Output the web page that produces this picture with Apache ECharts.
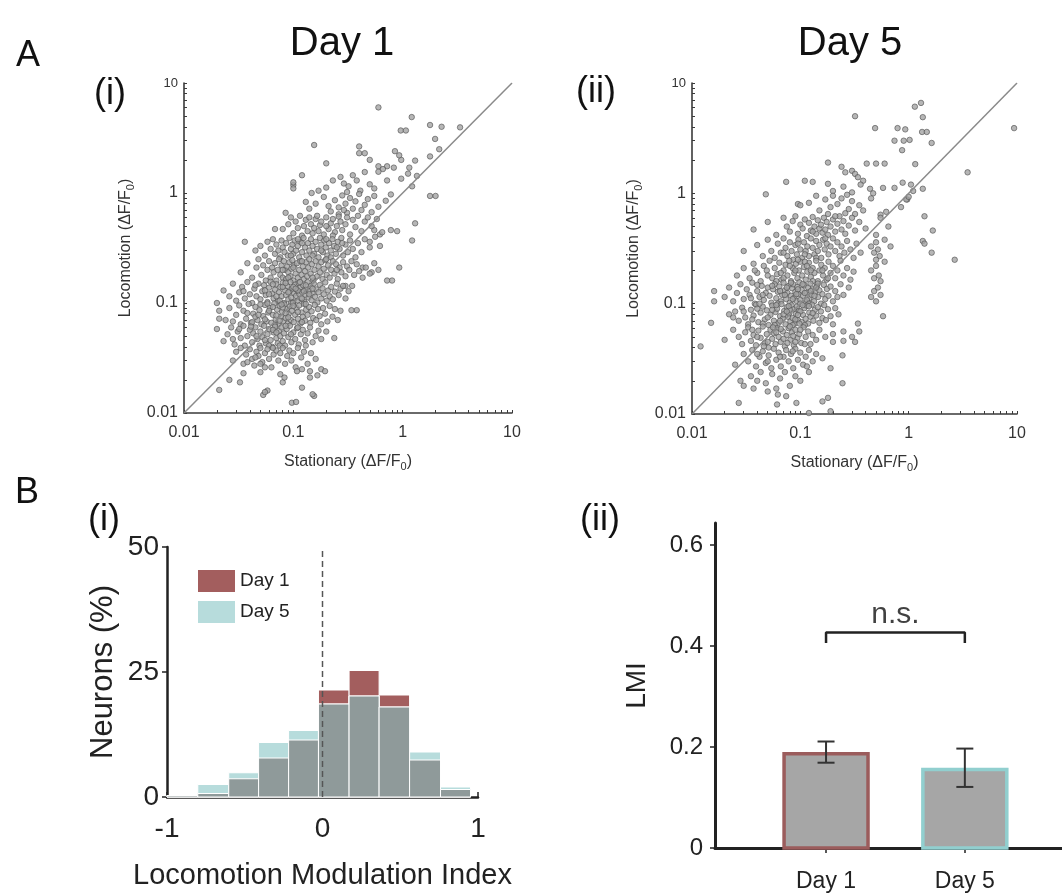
<!DOCTYPE html>
<html>
<head>
<meta charset="utf-8">
<script src="https://cdn.jsdelivr.net/npm/echarts@6/dist/echarts.min.js"></script>
<style>
html,body{margin:0;padding:0;background:#fff;}
#chart{width:1062px;height:895px;}
</style>
</head>
<body>
<div id="chart"></div>
<script>
// ---- A: per-neuron response amplitude, [stationary, locomotion] in ΔF/F0 ----
const day1Points = [
[0.155,2.73],[0.4,2.65],[0.6,6.0],[1.21,4.9],[0.96,3.7],[1.07,3.7],[1.78,4.15],[2.27,4.0],[3.35,3.95],[1.98,3.1],
[0.2,1.86],[0.4,2.3],[0.45,2.3],[0.6,1.75],[0.72,1.75],[0.85,2.4],[0.97,2.0],[1.3,1.97],[1.78,2.15],[2.16,2.5],[0.5,2.0],[0.66,1.65],[0.83,1.7],[0.93,2.2],[1.15,1.7],
[0.1,1.18],[0.1,1.25],[0.1,1.1],[0.12,1.45],[0.147,1.0],[0.17,1.05],[0.2,1.12],[0.23,1.3],[0.27,1.4],[0.29,1.22],[0.32,1.15],[0.35,1.45],[0.38,1.3],[0.41,1.05],[0.45,1.55],[0.5,1.2],[0.55,1.1],[0.6,1.56],[0.72,1.3],[0.97,1.35],[1.12,1.5],[0.31,1.02],[1.35,1.43],[1.22,1.15],
[0.085,0.66],[0.13,0.83],[0.16,0.8],[0.14,0.72],[0.19,0.92],[0.22,0.68],[0.24,0.86],[0.26,0.74],[0.28,0.95],[0.3,0.8],[0.31,0.66],[0.33,0.9],[0.35,0.72],[0.37,0.84],[0.4,0.98],[0.42,0.7],[0.45,0.78],[0.48,0.88],[0.52,0.67],[0.55,0.94],[0.6,0.75],[0.7,0.85],[0.78,0.97],[1.78,0.94],[0.26,0.64],[0.29,0.7],[0.21,0.76],[2.0,0.94],
[1.3,0.53],[1.22,0.37],[0.89,0.45],[0.62,0.42],[0.62,0.33],[0.5,0.36],[0.93,0.21],[0.8,0.16],[0.52,0.19],[0.43,0.21],[0.3,0.143],[0.345,0.143],[0.38,0.086],[0.72,0.16],[0.78,0.46],[0.55,0.46],[0.56,0.4],[0.34,0.086],
[0.068,0.47],[0.08,0.47],[0.09,0.52],[0.095,0.6],[0.1,0.43],[0.105,0.55],[0.11,0.48],[0.115,0.62],[0.12,0.41],[0.125,0.5],[0.13,0.57],[0.135,0.45],[0.14,0.6],[0.145,0.52],[0.15,0.43],[0.155,0.48],[0.16,0.58],[0.165,0.62],[0.17,0.45],[0.175,0.51],[0.18,0.55],[0.19,0.42],[0.2,0.6],[0.21,0.47],[0.22,0.53],[0.23,0.58],[0.24,0.44],[0.25,0.5],[0.26,0.61],[0.27,0.55],[0.28,0.46],[0.3,0.52],[0.31,0.6],[0.33,0.42],[0.35,0.57],[0.37,0.49],[0.39,0.62],[0.42,0.45],[0.45,0.55],[0.48,0.6],[0.52,0.5],[0.58,0.58],[0.65,0.44],[0.2,0.5],[0.23,0.41],
[0.036,0.36],[0.045,0.3],[0.05,0.33],[0.055,0.27],[0.058,0.36],[0.062,0.31],[0.065,0.38],[0.068,0.28],[0.07,0.34],[0.073,0.3],[0.076,0.26],[0.078,0.37],[0.08,0.32],[0.083,0.29],[0.086,0.35],[0.089,0.27],[0.092,0.39],[0.095,0.31],[0.098,0.34],[0.1,0.28],[0.103,0.37],[0.106,0.3],[0.11,0.33],[0.113,0.26],[0.116,0.36],[0.12,0.29],[0.124,0.39],[0.128,0.32],[0.132,0.27],[0.136,0.35],[0.14,0.3],[0.145,0.38],[0.15,0.33],[0.155,0.28],[0.16,0.36],[0.165,0.31],[0.17,0.26],[0.175,0.39],[0.18,0.34],[0.186,0.29],[0.192,0.37],[0.198,0.32],[0.205,0.27],[0.212,0.35],[0.22,0.3],[0.228,0.38],[0.236,0.33],[0.245,0.28],[0.255,0.36],[0.265,0.31],[0.275,0.39],[0.285,0.27],[0.3,0.34],[0.315,0.29],[0.33,0.37],[0.35,0.31],[0.37,0.26],[0.39,0.35],[0.42,0.29],[0.45,0.38],[0.5,0.32],[0.12,0.35],[0.15,0.27],[0.18,0.3],[0.22,0.26],[0.25,0.32],[0.11,0.38],[0.095,0.27],[0.28,0.35],[0.2,0.38],
[0.033,0.19],[0.038,0.23],[0.042,0.17],[0.046,0.21],[0.048,0.25],[0.051,0.18],[0.053,0.22],[0.056,0.16],[0.058,0.2],[0.06,0.24],[0.062,0.17],[0.064,0.21],[0.066,0.19],[0.068,0.23],[0.07,0.16],[0.072,0.2],[0.074,0.25],[0.076,0.18],[0.078,0.22],[0.08,0.17],[0.082,0.24],[0.084,0.2],[0.086,0.165],[0.088,0.215],[0.09,0.19],[0.092,0.235],[0.094,0.175],[0.096,0.205],[0.098,0.245],[0.1,0.16],[0.102,0.22],[0.105,0.185],[0.108,0.23],[0.11,0.17],[0.113,0.2],[0.116,0.24],[0.119,0.18],[0.122,0.215],[0.125,0.165],[0.128,0.195],[0.131,0.235],[0.134,0.175],[0.137,0.21],[0.14,0.25],[0.144,0.185],[0.148,0.225],[0.152,0.16],[0.156,0.2],[0.16,0.24],[0.165,0.175],[0.17,0.215],[0.175,0.19],[0.18,0.235],[0.185,0.165],[0.19,0.205],[0.196,0.245],[0.202,0.18],[0.208,0.22],[0.215,0.17],[0.222,0.2],[0.23,0.24],[0.238,0.185],[0.246,0.225],[0.255,0.165],[0.265,0.21],[0.275,0.19],[0.285,0.235],[0.3,0.175],[0.31,0.215],[0.325,0.2],[0.34,0.24],[0.36,0.18],[0.38,0.225],[0.4,0.195],[0.43,0.17],[0.46,0.21],[0.5,0.185],[0.55,0.23],[0.6,0.2],[0.08,0.2],[0.1,0.21],[0.12,0.24],[0.15,0.17],[0.2,0.25],[0.09,0.17],[0.25,0.2],
[0.023,0.13],[0.026,0.115],[0.028,0.15],[0.03,0.105],[0.032,0.125],[0.034,0.14],[0.036,0.11],[0.038,0.155],[0.04,0.12],[0.042,0.1],[0.044,0.135],[0.046,0.115],[0.048,0.15],[0.05,0.108],[0.052,0.128],[0.054,0.145],[0.056,0.118],[0.058,0.102],[0.06,0.138],[0.062,0.156],[0.064,0.122],[0.066,0.11],[0.068,0.132],[0.07,0.148],[0.072,0.104],[0.074,0.125],[0.076,0.14],[0.078,0.115],[0.08,0.153],[0.082,0.1],[0.084,0.13],[0.086,0.118],[0.088,0.143],[0.09,0.108],[0.092,0.127],[0.094,0.155],[0.096,0.112],[0.098,0.136],[0.1,0.102],[0.102,0.122],[0.104,0.147],[0.106,0.116],[0.108,0.131],[0.11,0.105],[0.112,0.152],[0.114,0.12],[0.116,0.138],[0.118,0.11],[0.12,0.126],[0.123,0.145],[0.126,0.103],[0.129,0.118],[0.132,0.134],[0.135,0.155],[0.138,0.112],[0.141,0.128],[0.144,0.142],[0.147,0.106],[0.15,0.122],[0.154,0.15],[0.158,0.114],[0.162,0.133],[0.166,0.101],[0.17,0.125],[0.175,0.146],[0.18,0.11],[0.185,0.136],[0.19,0.12],[0.196,0.154],[0.202,0.105],[0.208,0.13],[0.215,0.115],[0.222,0.14],[0.23,0.108],[0.24,0.127],[0.25,0.15],[0.26,0.118],[0.27,0.135],[0.285,0.143],[0.3,0.11],[0.32,0.128],[0.06,0.12],[0.07,0.115],[0.08,0.14],[0.09,0.125],[0.1,0.14],[0.11,0.13],[0.12,0.11],[0.13,0.145],[0.14,0.12],[0.15,0.135],[0.065,0.148],[0.075,0.105],[0.085,0.152],[0.095,0.1],[0.105,0.135],[0.115,0.155],[0.125,0.128],[0.055,0.13],[0.045,0.145],[0.035,0.128],
[0.02,0.1],[0.021,0.085],[0.021,0.072],[0.024,0.07],[0.026,0.09],[0.028,0.068],[0.03,0.078],[0.032,0.095],[0.033,0.064],[0.035,0.085],[0.037,0.072],[0.039,0.098],[0.041,0.066],[0.043,0.08],[0.045,0.092],[0.047,0.07],[0.049,0.086],[0.051,0.064],[0.053,0.076],[0.055,0.096],[0.057,0.068],[0.059,0.082],[0.061,0.09],[0.063,0.066],[0.065,0.078],[0.067,0.099],[0.069,0.071],[0.071,0.087],[0.073,0.064],[0.075,0.094],[0.077,0.075],[0.079,0.083],[0.081,0.068],[0.083,0.097],[0.085,0.073],[0.087,0.088],[0.089,0.065],[0.091,0.08],[0.093,0.093],[0.095,0.07],[0.097,0.085],[0.099,0.1],[0.101,0.067],[0.104,0.078],[0.107,0.09],[0.11,0.072],[0.113,0.095],[0.116,0.065],[0.119,0.082],[0.122,0.075],[0.125,0.098],[0.128,0.069],[0.131,0.087],[0.135,0.078],[0.139,0.092],[0.143,0.066],[0.147,0.084],[0.152,0.073],[0.157,0.096],[0.162,0.07],[0.168,0.088],[0.174,0.076],[0.18,0.064],[0.187,0.09],[0.195,0.08],[0.205,0.068],[0.215,0.094],[0.228,0.075],[0.24,0.088],[0.255,0.07],[0.27,0.085],[0.045,0.075],[0.05,0.097],[0.055,0.071],[0.06,0.085],[0.065,0.092],[0.07,0.077],[0.075,0.069],[0.08,0.091],[0.085,0.081],[0.09,0.074],[0.1,0.094],[0.11,0.083],[0.12,0.067],[0.13,0.098],[0.038,0.081],[0.042,0.067],[0.048,0.078],[0.058,0.099],[0.068,0.063],[0.078,0.097],
[0.02,0.058],[0.023,0.045],[0.025,0.052],[0.027,0.06],[0.029,0.042],[0.031,0.055],[0.033,0.048],[0.035,0.062],[0.036,0.041],[0.038,0.05],[0.04,0.057],[0.042,0.044],[0.043,0.053],[0.045,0.06],[0.047,0.047],[0.049,0.041],[0.05,0.055],[0.052,0.049],[0.054,0.062],[0.056,0.043],[0.058,0.052],[0.06,0.058],[0.062,0.046],[0.064,0.04],[0.066,0.054],[0.068,0.061],[0.07,0.048],[0.072,0.043],[0.074,0.056],[0.076,0.05],[0.078,0.06],[0.08,0.045],[0.082,0.053],[0.084,0.041],[0.087,0.058],[0.09,0.049],[0.093,0.062],[0.096,0.044],[0.1,0.054],[0.104,0.047],[0.108,0.059],[0.112,0.042],[0.117,0.052],[0.122,0.057],[0.128,0.046],[0.135,0.053],[0.142,0.06],[0.15,0.044],[0.16,0.05],[0.17,0.056],[0.18,0.047],[0.237,0.048],[0.2,0.055],[0.046,0.05],[0.055,0.046],[0.065,0.057],[0.075,0.041],[0.085,0.062],[0.095,0.052],[0.041,0.061],[0.032,0.058],[0.028,0.047],[0.11,0.06],[0.13,0.041],[0.06,0.041],[0.07,0.054],
[0.028,0.03],[0.03,0.036],[0.033,0.039],[0.035,0.028],[0.037,0.034],[0.04,0.038],[0.042,0.031],[0.044,0.027],[0.046,0.036],[0.048,0.033],[0.05,0.039],[0.052,0.029],[0.055,0.035],[0.058,0.038],[0.06,0.031],[0.063,0.026],[0.066,0.034],[0.07,0.037],[0.073,0.03],[0.076,0.035],[0.08,0.039],[0.084,0.028],[0.088,0.033],[0.092,0.037],[0.096,0.03],[0.1,0.035],[0.105,0.026],[0.11,0.039],[0.118,0.032],[0.125,0.036],[0.135,0.028],[0.145,0.035],[0.16,0.031],[0.18,0.025],[0.038,0.029],[0.055,0.026],[0.065,0.039],[0.045,0.032],
[0.021,0.0162],[0.026,0.02],[0.0325,0.019],[0.035,0.023],[0.05,0.0235],[0.05,0.028],[0.058,0.016],[0.076,0.0225],[0.08,0.019],[0.083,0.021],[0.108,0.024],[0.12,0.025],[0.142,0.024],[0.166,0.022],[0.12,0.017],[0.142,0.021],[0.195,0.024],
[0.097,0.0124],[0.053,0.0146],[0.055,0.0155],[0.155,0.0143],[0.15,0.0148],[0.106,0.0126]
];

const day5Points = [
[1.14,6.1],[1.3,6.6],[0.32,5.0],[1.35,4.9],[9.4,3.9],
[0.49,3.9],[0.79,3.9],[0.93,3.8],[1.33,3.6],[1.47,3.6],[0.74,3.0],[0.9,3.0],[1.02,3.05],[1.63,2.86],[0.87,2.46],
[0.18,1.9],[0.24,1.74],[0.41,1.86],[0.5,1.86],[0.6,1.86],[1.15,1.84],[3.5,1.55],[0.26,1.55],[0.3,1.6],[0.32,1.5],[0.34,1.4],[0.38,1.3],
[0.074,1.27],[0.11,1.3],[0.13,1.27],[0.18,1.22],[0.58,1.12],[0.74,1.12],[0.44,1.1],[0.47,1.0],[0.88,1.25],[1.35,1.1],[0.2,1.05],[0.25,1.15],[0.3,1.02],[0.36,1.2],[1.05,1.2],[1.1,1.05],[0.97,0.88],
[0.048,0.98],[0.095,0.8],[0.1,0.78],[0.12,0.82],[0.15,0.7],[0.17,0.88],[0.2,0.95],[0.19,0.75],[0.22,0.8],[0.24,0.9],[0.26,0.66],[0.28,0.72],[0.3,0.85],[0.32,0.65],[0.35,0.78],[0.38,0.7],[0.45,0.9],[0.55,0.64],[0.62,0.68],[0.95,0.88],[1.0,0.93],[1.4,0.62],[0.18,0.65],[0.14,0.95],[0.27,0.97],[0.85,0.75],
[0.037,0.47],[0.05,0.55],[0.06,0.42],[0.07,0.6],[0.075,0.5],[0.08,0.45],[0.085,0.56],[0.09,0.62],[0.095,0.43],[0.1,0.52],[0.105,0.48],[0.11,0.58],[0.115,0.41],[0.12,0.54],[0.125,0.46],[0.13,0.61],[0.135,0.5],[0.14,0.43],[0.145,0.57],[0.15,0.48],[0.155,0.52],[0.16,0.44],[0.165,0.6],[0.17,0.47],[0.175,0.55],[0.18,0.42],[0.19,0.5],[0.2,0.58],[0.21,0.45],[0.22,0.53],[0.23,0.62],[0.24,0.47],[0.25,0.56],[0.26,0.43],[0.28,0.51],[0.3,0.6],[0.32,0.46],[0.35,0.55],[0.4,0.48],[0.5,0.42],[0.55,0.6],[0.65,0.5],[1.67,0.46],[0.13,0.45],[0.21,0.62],
[0.03,0.3],[0.04,0.34],[0.045,0.27],[0.05,0.38],[0.054,0.3],[0.058,0.26],[0.062,0.35],[0.066,0.29],[0.07,0.39],[0.073,0.32],[0.076,0.27],[0.08,0.36],[0.083,0.3],[0.086,0.25],[0.09,0.34],[0.093,0.28],[0.096,0.38],[0.1,0.31],[0.104,0.26],[0.108,0.36],[0.112,0.3],[0.116,0.33],[0.12,0.27],[0.125,0.39],[0.13,0.32],[0.135,0.28],[0.14,0.37],[0.145,0.3],[0.15,0.34],[0.156,0.26],[0.162,0.38],[0.168,0.31],[0.175,0.35],[0.182,0.28],[0.19,0.33],[0.2,0.39],[0.21,0.3],[0.22,0.36],[0.23,0.27],[0.24,0.33],[0.255,0.29],[0.27,0.37],[0.29,0.31],[0.31,0.26],[0.33,0.35],[0.36,0.29],[0.45,0.33],[0.48,0.29],[0.5,0.36],[0.52,0.31],[0.54,0.27],[0.5,0.25],[1.35,0.37],[1.4,0.35],[1.63,0.29],[2.66,0.25],[0.68,0.33],[0.6,0.38],[0.11,0.28],[0.14,0.26],[0.17,0.39],[0.07,0.29],[0.095,0.35],
[0.026,0.18],[0.03,0.21],[0.034,0.17],[0.037,0.23],[0.04,0.19],[0.043,0.16],[0.046,0.22],[0.049,0.2],[0.052,0.245],[0.055,0.17],[0.058,0.21],[0.061,0.185],[0.064,0.235],[0.067,0.165],[0.07,0.2],[0.073,0.225],[0.076,0.18],[0.079,0.245],[0.082,0.16],[0.085,0.21],[0.088,0.19],[0.091,0.23],[0.094,0.17],[0.097,0.2],[0.1,0.24],[0.104,0.18],[0.108,0.215],[0.112,0.165],[0.116,0.195],[0.12,0.235],[0.125,0.175],[0.13,0.21],[0.135,0.19],[0.14,0.245],[0.145,0.16],[0.15,0.2],[0.156,0.225],[0.162,0.18],[0.168,0.21],[0.175,0.165],[0.182,0.24],[0.19,0.19],[0.2,0.22],[0.21,0.17],[0.22,0.2],[0.235,0.245],[0.25,0.18],[0.27,0.21],[0.29,0.165],[0.31,0.195],[0.45,0.2],[0.48,0.17],[0.5,0.22],[0.53,0.18],[0.55,0.16],[0.6,0.24],[0.07,0.17],[0.08,0.22],[0.09,0.2],[0.11,0.24],[0.13,0.16],[0.05,0.18],[0.06,0.16],[0.095,0.25],[0.115,0.22],[0.125,0.2],[0.16,0.2],[0.18,0.17],[0.038,0.2],[0.066,0.19],
[0.016,0.13],[0.02,0.115],[0.022,0.14],[0.024,0.105],[0.026,0.125],[0.028,0.15],[0.03,0.11],[0.032,0.135],[0.034,0.12],[0.036,0.155],[0.038,0.1],[0.04,0.13],[0.042,0.115],[0.044,0.145],[0.046,0.108],[0.048,0.125],[0.05,0.14],[0.052,0.118],[0.054,0.102],[0.056,0.135],[0.058,0.15],[0.06,0.112],[0.062,0.128],[0.064,0.143],[0.066,0.105],[0.068,0.12],[0.07,0.155],[0.072,0.132],[0.074,0.11],[0.076,0.125],[0.078,0.145],[0.08,0.102],[0.082,0.118],[0.084,0.138],[0.086,0.15],[0.088,0.113],[0.09,0.128],[0.092,0.106],[0.094,0.142],[0.096,0.122],[0.098,0.156],[0.1,0.108],[0.103,0.133],[0.106,0.118],[0.109,0.147],[0.112,0.103],[0.115,0.126],[0.118,0.14],[0.121,0.112],[0.124,0.152],[0.127,0.12],[0.13,0.135],[0.134,0.105],[0.138,0.128],[0.142,0.145],[0.146,0.115],[0.15,0.132],[0.155,0.1],[0.16,0.122],[0.165,0.148],[0.17,0.11],[0.176,0.136],[0.182,0.118],[0.19,0.143],[0.2,0.105],[0.21,0.13],[0.22,0.115],[0.235,0.15],[0.25,0.12],[0.28,0.14],[0.45,0.115],[0.48,0.13],[0.5,0.105],[0.52,0.14],[0.55,0.12],[0.065,0.13],[0.075,0.14],[0.085,0.11],[0.095,0.135],[0.105,0.15],[0.115,0.108],[0.125,0.13],[0.135,0.118],[0.145,0.152],[0.045,0.12],[0.055,0.145],[0.035,0.112],[0.04,0.148],[0.062,0.1],[0.072,0.12],[0.082,0.155],[0.092,0.122],[0.11,0.125],[0.12,0.1],[0.14,0.14],[0.016,0.105],
[0.015,0.067],[0.022,0.08],[0.025,0.085],[0.027,0.07],[0.029,0.092],[0.031,0.075],[0.033,0.065],[0.035,0.088],[0.037,0.078],[0.039,0.098],[0.041,0.068],[0.043,0.083],[0.045,0.094],[0.047,0.072],[0.049,0.087],[0.051,0.064],[0.053,0.079],[0.055,0.096],[0.057,0.07],[0.059,0.084],[0.061,0.09],[0.063,0.067],[0.065,0.077],[0.067,0.099],[0.069,0.073],[0.071,0.086],[0.073,0.065],[0.075,0.093],[0.077,0.076],[0.079,0.082],[0.081,0.069],[0.083,0.097],[0.085,0.074],[0.087,0.089],[0.089,0.066],[0.091,0.081],[0.093,0.094],[0.095,0.071],[0.097,0.086],[0.1,0.1],[0.103,0.068],[0.106,0.079],[0.109,0.091],[0.112,0.073],[0.115,0.096],[0.118,0.066],[0.121,0.083],[0.124,0.076],[0.128,0.098],[0.132,0.07],[0.136,0.088],[0.14,0.078],[0.145,0.093],[0.15,0.067],[0.155,0.085],[0.16,0.074],[0.166,0.097],[0.172,0.071],[0.18,0.089],[0.19,0.077],[0.2,0.065],[0.21,0.091],[0.225,0.08],[0.34,0.066],[0.35,0.056],[0.58,0.077],[0.03,0.085],[0.04,0.09],[0.05,0.075],[0.06,0.097],[0.07,0.08],[0.08,0.088],[0.09,0.072],[0.1,0.085],[0.11,0.064],[0.12,0.095],[0.13,0.082],[0.045,0.066],[0.055,0.088],[0.065,0.07],[0.075,0.085],[0.085,0.064],[0.095,0.079],[0.105,0.097],[0.036,0.072],[0.042,0.1],[0.058,0.064],[0.078,0.095],[0.098,0.066],[0.024,0.075],
[0.012,0.041],[0.02,0.047],[0.024,0.058],[0.027,0.05],[0.029,0.043],[0.031,0.055],[0.033,0.061],[0.035,0.046],[0.037,0.052],[0.039,0.042],[0.041,0.057],[0.043,0.049],[0.045,0.062],[0.047,0.044],[0.049,0.053],[0.051,0.04],[0.053,0.058],[0.055,0.048],[0.057,0.054],[0.059,0.043],[0.061,0.06],[0.063,0.05],[0.066,0.045],[0.069,0.056],[0.072,0.041],[0.075,0.052],[0.078,0.06],[0.081,0.047],[0.084,0.055],[0.087,0.042],[0.09,0.058],[0.094,0.049],[0.098,0.053],[0.102,0.044],[0.107,0.061],[0.112,0.05],[0.118,0.056],[0.124,0.043],[0.13,0.052],[0.14,0.047],[0.15,0.058],[0.17,0.05],[0.2,0.053],[0.2,0.045],[0.25,0.056],[0.25,0.046],[0.32,0.045],[0.3,0.05],[0.04,0.05],[0.05,0.045],[0.06,0.055],[0.07,0.048],[0.08,0.062],[0.09,0.045],[0.1,0.058],[0.036,0.058],[0.046,0.041],[0.056,0.061],[0.066,0.059],[0.076,0.044],[0.086,0.051],[0.11,0.043],
[0.025,0.028],[0.03,0.035],[0.033,0.03],[0.036,0.038],[0.039,0.027],[0.042,0.033],[0.045,0.037],[0.048,0.029],[0.051,0.034],[0.054,0.026],[0.057,0.039],[0.06,0.031],[0.063,0.036],[0.066,0.027],[0.07,0.033],[0.074,0.038],[0.078,0.03],[0.082,0.035],[0.086,0.026],[0.09,0.039],[0.095,0.031],[0.1,0.036],[0.106,0.028],[0.112,0.033],[0.12,0.038],[0.13,0.03],[0.14,0.035],[0.19,0.026],[0.245,0.034],[0.16,0.032],[0.04,0.035],[0.05,0.03],[0.065,0.033],[0.085,0.037],[0.115,0.027],
[0.028,0.02],[0.03,0.018],[0.035,0.022],[0.037,0.017],[0.04,0.02],[0.043,0.024],[0.048,0.019],[0.055,0.023],[0.06,0.017],[0.065,0.021],[0.072,0.024],[0.08,0.018],[0.09,0.022],[0.1,0.02],[0.245,0.019],[0.12,0.024],[0.05,0.016],
[0.027,0.0126],[0.061,0.0122],[0.062,0.015],[0.074,0.0145],[0.092,0.0126],[0.16,0.013],[0.18,0.014],[0.19,0.0106],[0.12,0.0102]
];

// unity line and log-axis tick marks for both scatter panels
const unityLine = [[0.01, 0.01], [10, 10]];
const logTickValues = [
  0.01,0.02,0.03,0.04,0.05,0.06,0.07,0.08,0.09,
  0.1,0.2,0.3,0.4,0.5,0.6,0.7,0.8,0.9,
  1,2,3,4,5,6,7,8,9,10
];

// ---- B(i): LMI distribution, % of neurons per bin ----
const lmiBinEdges = [-1.0, -0.802, -0.603, -0.411, -0.218, -0.026, 0.171, 0.364, 0.560, 0.759, 0.952];
const lmiDay1Pct = [0.3, 0.7, 3.65, 7.8, 11.4, 21.4, 25.3, 20.4, 7.4, 1.5];
const lmiDay5Pct = [0.3, 2.5, 4.85, 10.9, 13.3, 18.6, 20.2, 18.0, 9.0, 2.0];
const zeroLine = [[0, 0], [0, 50]];

// ---- B(ii): mean LMI ± s.e.m. ----
const lmiGroups = ['Day 1', 'Day 5'];
const lmiGroupPos = [1, 2];
const lmiMeans = [0.19, 0.159];
const lmiErrors = [0.021, 0.038];
const nsBracket = [[1, 0.406], [1, 0.427], [2, 0.427], [2, 0.406]];
const nsLabelPoint = [[1.5, 0.427]];

const FONT = '"Liberation Sans", Arial, Helvetica, sans-serif';
const C_DAY1 = '#a35e5e';
const C_DAY5 = '#b7dcdc';
const C_BOTH = '#8f9a9a';

const chart = echarts.init(document.getElementById('chart'));

function logAxis(gridIndex, isY, name) {
  return {
    type: 'log', logBase: 10, min: 0.01, max: 10, gridIndex,
    name, nameLocation: 'middle', nameGap: isY ? 48 : 39, nameMoveOverlap: false,
    nameTextStyle: {
      fontFamily: FONT, fontSize: 16, color: '#333',
      rich: { sub: { fontFamily: FONT, fontSize: 11, color: '#333', padding: [9, 0, 0, 0] } }
    },
    axisLine: { show: true, onZero: false, lineStyle: { color: '#3a3a3a', width: 1.6 } },
    axisTick: { show: true, inside: true, length: 3, customValues: logTickValues,
                lineStyle: { color: '#3a3a3a', width: 1 } },
    minorTick: { show: false },
    splitLine: { show: false },
    axisLabel: {
      fontFamily: FONT, fontSize: 16, color: '#333', margin: isY ? 6 : 12,
      formatter: v => {
        const s = String(Number(v.toPrecision(3)));
        return (isY && v > 5) ? '{s|' + s + '}' : s;
      },
      rich: { s: { fontFamily: FONT, fontSize: 13, color: '#333' } }
    }
  };
}

function hist(name, values, color, z) {
  return {
    type: 'custom', name, xAxisIndex: 2, yAxisIndex: 2, z,
    itemStyle: { color },
    encode: { x: [0, 1], y: 2 },
    data: values.map((v, i) => [lmiBinEdges[i], lmiBinEdges[i + 1], v]),
    renderItem: (params, api) => {
      const p0 = api.coord([api.value(0), api.value(2)]);
      const p1 = api.coord([api.value(1), 0]);
      return {
        type: 'rect',
        shape: { x: p0[0], y: p0[1], width: p1[0] - p0[0], height: p1[1] - p0[1] },
        style: { fill: color, stroke: '#ffffff', lineWidth: 1 }
      };
    }
  };
}

const overlapPct = lmiDay1Pct.map((v, i) => Math.min(v, lmiDay5Pct[i]));

const bigAxisText = { fontFamily: FONT, color: '#222' };

const scatterStyle = { color: '#a4a4a4', borderColor: '#4e4e4e', borderWidth: 0.8 };

const option = {
  animation: false,
  backgroundColor: '#ffffff',
  grid: [
    { left: 184, top: 83, width: 328, height: 330, outerBoundsMode: 'none' },
    { left: 692, top: 83, width: 325, height: 331, outerBoundsMode: 'none' },
    { left: 167, top: 547, width: 311, height: 250, outerBoundsMode: 'none' },
    { left: 715, top: 523, width: 347, height: 325, outerBoundsMode: 'none' }
  ],
  legend: {
    orient: 'vertical', left: 193, top: 565, itemWidth: 37, itemHeight: 22, itemGap: 9,
    icon: 'rect', selectedMode: false,
    textStyle: { fontFamily: FONT, fontSize: 19, color: '#222' },
    data: [
      { name: 'Day 1', itemStyle: { color: C_DAY1 } },
      { name: 'Day 5', itemStyle: { color: C_DAY5 } }
    ]
  },
  xAxis: [
    logAxis(0, false, 'Stationary (ΔF/F{sub|0})'),
    logAxis(1, false, 'Stationary (ΔF/F{sub|0})'),
    {
      type: 'value', gridIndex: 2, min: -1, max: 1, interval: 1,
      name: 'Locomotion Modulation Index', nameLocation: 'middle', nameGap: 64, nameMoveOverlap: false,
      nameTextStyle: Object.assign({ fontSize: 29 }, bigAxisText),
      axisLine: { show: true, onZero: false, lineStyle: { color: '#222', width: 2.5 } },
      axisTick: { show: true, inside: true, length: 5, lineStyle: { color: '#222', width: 1.5 } },
      splitLine: { show: false },
      axisLabel: Object.assign({ fontSize: 28, margin: 18 }, bigAxisText)
    },
    {
      type: 'value', gridIndex: 3, min: 0.2, max: 2.7,
      axisLine: { show: true, onZero: false, lineStyle: { color: '#222', width: 3 } },
      axisTick: { show: true, length: 5, customValues: lmiGroupPos, lineStyle: { color: '#222', width: 1.5 } },
      splitLine: { show: false },
      axisLabel: Object.assign({ fontSize: 23, margin: 22, customValues: lmiGroupPos,
        formatter: v => lmiGroups[lmiGroupPos.indexOf(v)] }, bigAxisText)
    }
  ],
  yAxis: [
    logAxis(0, true, 'Locomotion (ΔF/F{sub|0})'),
    logAxis(1, true, 'Locomotion (ΔF/F{sub|0})'),
    {
      type: 'value', gridIndex: 2, min: 0, max: 50, interval: 25,
      name: 'Neurons (%)', nameLocation: 'middle', nameGap: 48, nameMoveOverlap: false,
      nameTextStyle: Object.assign({ fontSize: 31 }, bigAxisText),
      axisLine: { show: true, onZero: false, lineStyle: { color: '#222', width: 2.5 } },
      axisTick: { show: true, length: 5, lineStyle: { color: '#222', width: 1.5 } },
      splitLine: { show: false },
      axisLabel: Object.assign({ fontSize: 28, margin: 8 }, bigAxisText)
    },
    {
      type: 'value', gridIndex: 3, min: 0, max: 0.644,
      name: 'LMI', nameLocation: 'middle', nameGap: 64, nameMoveOverlap: false,
      nameTextStyle: Object.assign({ fontSize: 28 }, bigAxisText),
      axisLine: { show: true, onZero: false, lineStyle: { color: '#222', width: 3 } },
      axisTick: { show: true, length: 5, customValues: [0, 0.2, 0.4, 0.6], lineStyle: { color: '#222', width: 1.5 } },
      splitLine: { show: false },
      axisLabel: Object.assign({ fontSize: 24, margin: 12, customValues: [0, 0.2, 0.4, 0.6],
        formatter: v => (v === 0 ? '0' : v.toFixed(1)) }, bigAxisText)
    }
  ],
  series: [
    {
      type: 'scatter', xAxisIndex: 0, yAxisIndex: 0, data: day1Points, symbol: 'circle', symbolSize: 5.5,
      itemStyle: scatterStyle, z: 2
    },
    {
      type: 'line', xAxisIndex: 0, yAxisIndex: 0, data: unityLine, symbol: 'none', silent: true, z: 3,
      lineStyle: { color: '#8a8a8a', width: 1.5 }
    },
    {
      type: 'scatter', xAxisIndex: 1, yAxisIndex: 1, data: day5Points, symbol: 'circle', symbolSize: 5.5,
      itemStyle: scatterStyle, z: 2
    },
    {
      type: 'line', xAxisIndex: 1, yAxisIndex: 1, data: unityLine, symbol: 'none', silent: true, z: 3,
      lineStyle: { color: '#8a8a8a', width: 1.5 }
    },
    hist('Day 1', lmiDay1Pct, C_DAY1, 2),
    hist('Day 5', lmiDay5Pct, C_DAY5, 3),
    hist('both days', overlapPct, C_BOTH, 4),
    {
      type: 'line', xAxisIndex: 2, yAxisIndex: 2, data: zeroLine, symbol: 'none', silent: true, z: 6,
      lineStyle: { color: '#555', width: 1.5, type: [6, 4] }
    },
    {
      type: 'custom', xAxisIndex: 3, yAxisIndex: 3, z: 3,
      data: lmiMeans.map((m, i) => [lmiGroupPos[i], m, i]),
      renderItem: (params, api) => {
        const x = api.value(0), m = api.value(1), i = api.value(2);
        const p0 = api.coord([x - 0.315, m]);
        const p1 = api.coord([x + 0.315, 0]);
        return {
          type: 'rect',
          shape: { x: p0[0] + 1.75, y: p0[1] + 1.75, width: p1[0] - p0[0] - 3.5, height: p1[1] - p0[1] - 1.75 },
          style: { fill: '#a6a6a6', stroke: i === 0 ? '#9b5c5c' : '#91cfcf', lineWidth: 3.5 }
        };
      }
    },
    {
      type: 'custom', xAxisIndex: 3, yAxisIndex: 3, z: 4,
      data: lmiMeans.map((m, i) => [lmiGroupPos[i], m - lmiErrors[i], m + lmiErrors[i]]),
      renderItem: (params, api) => {
        const lo = api.coord([api.value(0), api.value(1)]);
        const hi = api.coord([api.value(0), api.value(2)]);
        const st = { stroke: '#333', lineWidth: 2 };
        return {
          type: 'group',
          children: [
            { type: 'line', shape: { x1: lo[0], y1: lo[1], x2: hi[0], y2: hi[1] }, style: st },
            { type: 'line', shape: { x1: lo[0] - 8.5, y1: lo[1], x2: lo[0] + 8.5, y2: lo[1] }, style: st },
            { type: 'line', shape: { x1: hi[0] - 8.5, y1: hi[1], x2: hi[0] + 8.5, y2: hi[1] }, style: st }
          ]
        };
      }
    },
    {
      type: 'line', xAxisIndex: 3, yAxisIndex: 3, data: nsBracket, symbol: 'none', silent: true, z: 5,
      lineStyle: { color: '#222', width: 2.5 }
    },
    {
      type: 'scatter', xAxisIndex: 3, yAxisIndex: 3, data: nsLabelPoint, symbolSize: 0, silent: true,
      label: { show: true, position: 'top', distance: 3, formatter: 'n.s.',
               fontFamily: FONT, fontSize: 30, color: '#111' }
    }
  ],
  graphic: [
    { type: 'text', x: 28, y: 56, style: { text: 'A', font: '36px ' + FONT, fill: '#111', align: 'center', verticalAlign: 'middle' } },
    { type: 'text', x: 342, y: 44, style: { text: 'Day 1', font: '40px ' + FONT, fill: '#111', align: 'center', verticalAlign: 'middle' } },
    { type: 'text', x: 850, y: 44, style: { text: 'Day 5', font: '40px ' + FONT, fill: '#111', align: 'center', verticalAlign: 'middle' } },
    { type: 'text', x: 110, y: 94, style: { text: '(i)', font: '36px ' + FONT, fill: '#111', align: 'center', verticalAlign: 'middle' } },
    { type: 'text', x: 596, y: 92, style: { text: '(ii)', font: '36px ' + FONT, fill: '#111', align: 'center', verticalAlign: 'middle' } },
    { type: 'text', x: 27, y: 493, style: { text: 'B', font: '36px ' + FONT, fill: '#111', align: 'center', verticalAlign: 'middle' } },
    { type: 'text', x: 104, y: 520, style: { text: '(i)', font: '36px ' + FONT, fill: '#111', align: 'center', verticalAlign: 'middle' } },
    { type: 'text', x: 600, y: 520, style: { text: '(ii)', font: '36px ' + FONT, fill: '#111', align: 'center', verticalAlign: 'middle' } }
  ]
};

chart.setOption(option);
</script>
</body>
</html>
